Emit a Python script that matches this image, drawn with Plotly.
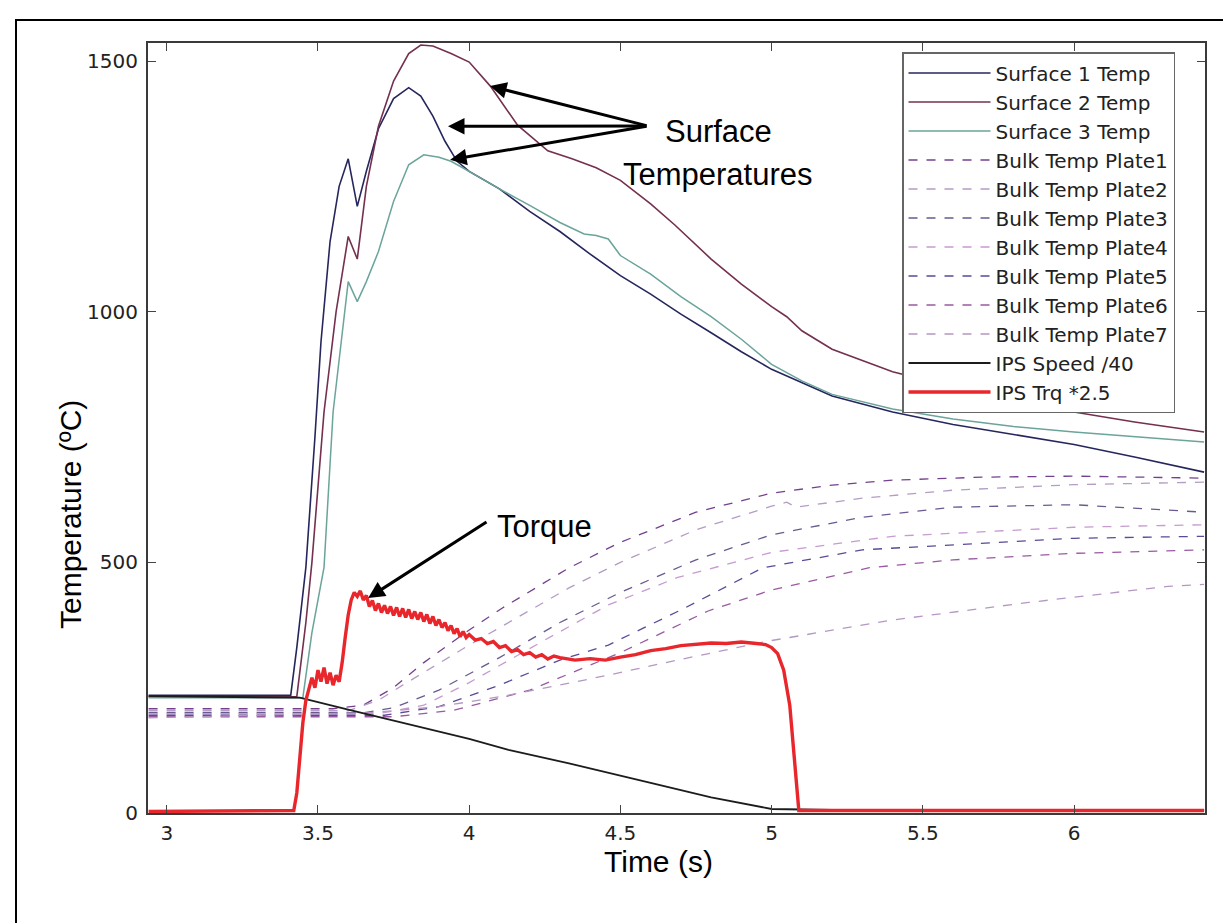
import plotly.graph_objects as go

# ---------------- data ----------------
t_s1 = [2.94, 3.41, 3.43, 3.46, 3.49, 3.51, 3.54, 3.57, 3.60, 3.63, 3.66, 3.70, 3.75, 3.80, 3.84, 3.88,
        3.92, 3.96, 4.0, 4.1, 4.2, 4.3, 4.4, 4.5, 4.6, 4.7, 4.8, 4.9, 5.0, 5.1, 5.2, 5.4, 5.6, 5.8, 6.0, 6.2, 6.43]
v_s1 = [235, 235, 330, 490, 750, 940, 1140, 1250, 1305, 1210, 1280, 1365, 1425, 1447, 1430, 1390,
        1340, 1300, 1280, 1245, 1200, 1160, 1115, 1072, 1035, 995, 958, 920, 885, 858, 832, 800, 775, 755, 735, 710, 680]

t_s2 = [2.94, 3.43, 3.46, 3.48, 3.52, 3.56, 3.60, 3.63, 3.66, 3.70, 3.75, 3.80, 3.84, 3.88, 3.94, 4.0,
        4.07, 4.16, 4.26, 4.34, 4.42, 4.5, 4.6, 4.68, 4.8, 4.9, 5.0, 5.05, 5.1, 5.2, 5.4, 5.6, 5.8, 6.0, 6.2, 6.43]
v_s2 = [232, 232, 380, 500, 800, 1000, 1150, 1105, 1250, 1370, 1460, 1515, 1532, 1530, 1515, 1498,
        1450, 1372, 1321, 1305, 1287, 1262, 1215, 1173, 1105, 1055, 1010, 990, 962, 925, 880, 850, 822, 800, 780, 760]

t_s3 = [2.94, 3.45, 3.48, 3.52, 3.55, 3.57, 3.60, 3.63, 3.66, 3.70, 3.75, 3.80, 3.85, 3.90, 3.94, 4.02,
        4.1, 4.2, 4.3, 4.38, 4.42, 4.46, 4.5, 4.6, 4.7, 4.8, 4.9, 5.0, 5.1, 5.2, 5.4, 5.6, 5.8, 6.0, 6.2, 6.43]
v_s3 = [230, 230, 360, 490, 800, 905, 1060, 1020, 1060, 1120, 1220, 1293, 1313, 1308, 1300, 1273,
        1245, 1212, 1178, 1155, 1152, 1145, 1112, 1075, 1030, 990, 945, 895, 862, 835, 806, 786, 771, 760, 750, 740]

t_b1 = [2.94, 3.55, 3.65, 3.75, 3.85, 4.0, 4.11, 4.33, 4.5, 4.75, 5.0, 5.2, 5.4, 5.7, 6.0, 6.2, 6.43]
v_b1 = [208, 208, 215, 250, 300, 365, 409, 489, 540, 600, 638, 654, 664, 670, 672, 670, 668]
t_b2 = [2.94, 3.6, 3.7, 3.78, 4.0, 4.1, 4.33, 4.5, 4.75, 5.0, 5.05, 5.08, 5.3, 5.6, 6.0, 6.43]
v_b2 = [204, 204, 225, 255, 335, 370, 449, 500, 565, 612, 620, 610, 628, 644, 655, 660]
t_b3 = [2.94, 3.65, 3.75, 3.9, 4.1, 4.3, 4.5, 4.75, 5.0, 5.3, 5.6, 6.0, 6.43]
v_b3 = [200, 200, 210, 245, 310, 380, 440, 505, 555, 590, 610, 615, 600]
t_b4 = [2.94, 3.7, 3.85, 4.0, 4.25, 4.46, 4.69, 5.0, 5.4, 6.0, 6.43]
v_b4 = [198, 198, 215, 260, 345, 415, 470, 520, 552, 570, 575]
t_b5 = [2.94, 3.72, 3.9, 4.1, 4.3, 4.46, 4.7, 4.97, 5.3, 6.0, 6.43]
v_b5 = [195, 195, 212, 255, 305, 335, 405, 489, 525, 548, 552]
t_b6 = [2.94, 3.75, 3.95, 4.2, 4.5, 4.79, 5.0, 5.32, 5.6, 6.0, 6.43]
v_b6 = [192, 192, 205, 245, 320, 403, 445, 489, 505, 518, 525]
t_b7 = [2.94, 3.67, 3.9, 4.13, 4.33, 4.46, 4.65, 4.98, 5.4, 5.85, 6.31, 6.43]
v_b7 = [190, 200, 212, 235, 259, 275, 300, 342, 385, 420, 452, 456]

t_speed = [2.94, 3.44, 3.6, 3.8, 4.0, 4.13, 4.33, 4.6, 4.8, 5.0, 5.2, 5.6, 6.0, 6.43]
v_speed = [233, 230, 206, 177, 148, 126, 99, 60, 31, 8, 6, 6, 6, 6]

t_trq = [2.94, 3.2, 3.42, 3.43, 3.44, 3.45, 3.46, 3.47, 3.48, 3.49, 3.50, 3.51, 3.52, 3.53, 3.54, 3.55,
         3.56, 3.57, 3.58, 3.59, 3.60, 3.61, 3.62, 3.63, 3.64, 3.65, 3.66, 3.67, 3.68, 3.69, 3.70, 3.71,
         3.72, 3.73, 3.74, 3.75, 3.76, 3.77, 3.78, 3.79, 3.80, 3.81, 3.82, 3.83, 3.84, 3.85, 3.86, 3.87,
         3.88, 3.89, 3.90, 3.91, 3.92, 3.93, 3.94, 3.95, 3.96, 3.97, 3.98, 3.99, 4.00, 4.02, 4.04, 4.06,
         4.08, 4.10, 4.12, 4.14, 4.16, 4.18, 4.20, 4.22, 4.24, 4.26, 4.28, 4.30, 4.35, 4.40, 4.45, 4.50,
         4.55, 4.60, 4.65, 4.70, 4.75, 4.80, 4.85, 4.90, 4.95, 4.98, 5.00, 5.02, 5.04, 5.06, 5.075, 5.085,
         5.09, 5.11, 5.3, 5.6, 6.0, 6.43]
v_trq = [3, 4, 5, 40, 110, 180, 225, 245, 270, 250, 285, 262, 290, 258, 280, 255,
         275, 262, 300, 350, 395, 425, 440, 432, 443, 425, 434, 412, 424, 404, 418, 400,
         414, 398, 412, 394, 410, 392, 408, 390, 406, 388, 402, 386, 400, 382, 396, 378,
         392, 374, 386, 370, 380, 364, 374, 358, 368, 352, 362, 350, 356, 345, 348, 338,
         342, 330, 334, 322, 326, 316, 320, 311, 316, 307, 313, 310, 305, 308, 305, 311,
         316, 324, 328, 334, 336, 339, 338, 341, 338, 336, 330, 318, 285, 215, 110, 30,
         5, 5, 5, 5, 5, 5]

names = ["Surface 1 Temp", "Surface 2 Temp", "Surface 3 Temp",
         "Bulk Temp Plate1", "Bulk Temp Plate2", "Bulk Temp Plate3", "Bulk Temp Plate4",
         "Bulk Temp Plate5", "Bulk Temp Plate6", "Bulk Temp Plate7",
         "IPS Speed /40", "IPS Trq *2.5"]
series_t = [t_s1, t_s2, t_s3, t_b1, t_b2, t_b3, t_b4, t_b5, t_b6, t_b7, t_speed, t_trq]
series_v = [v_s1, v_s2, v_s3, v_b1, v_b2, v_b3, v_b4, v_b5, v_b6, v_b7, v_speed, v_trq]

x_ticks = [3, 3.5, 4, 4.5, 5, 5.5, 6]
x_ticktext = ["3", "3.5", "4", "4.5", "5", "5.5", "6"]
y_ticks = [0, 500, 1000, 1500]
y_ticktext = ["0", "500", "1000", "1500"]

# ---------------- styles ----------------
colors = ["#26265e", "#74304e", "#6aa49a",
          "#74408e", "#b49cc4", "#6a5a90", "#c79ad0", "#5a4a98", "#9a5aa2", "#b498c2",
          "#1c1c1c", "#e8262b"]
widths = [1.6, 1.6, 1.5, 1.3, 1.3, 1.3, 1.3, 1.3, 1.3, 1.3, 1.8, 3.4]
dashes = ["solid", "solid", "solid", "dash", "dash", "dash", "dash", "dash", "dash", "dash", "solid", "solid"]

fig = go.Figure()
for n, tt, vv, c, w, d in zip(names, series_t, series_v, colors, widths, dashes):
    fig.add_trace(go.Scatter(x=tt, y=vv, mode="lines", name=n,
                             line=dict(color=c, width=w, dash=d)))

L, R, T, B = 140, 34, 35, 118
W, H = 1231, 923
pw, ph = W - L - R, H - T - B
X0, X1, Y0, Y1 = 2.938, 6.433, 0, 1536


def px(xp):
    return (xp - L) / pw


def py(yp):
    return (H - B - yp) / ph


def dx(xp):
    return X0 + (xp - L) / pw * (X1 - X0)


def dy(yp):
    return Y0 + (H - B - yp) / ph * (Y1 - Y0)


axis_common = dict(showgrid=False, zeroline=False, showline=True, mirror="ticks",
                   linecolor="#3a3a3a", linewidth=2, ticks="inside", ticklen=8,
                   tickcolor="#444", tickwidth=1,
                   tickfont=dict(family="DejaVu Sans", size=20, color="#222"))

fig.update_layout(
    width=W, height=H, autosize=False,
    margin=dict(l=L, r=R, t=T, b=B),
    paper_bgcolor="white", plot_bgcolor="white",
    xaxis=dict(range=[X0, X1], tickvals=x_ticks, ticktext=x_ticktext,
               ticklabelstandoff=1, **axis_common),
    yaxis=dict(range=[Y0, Y1], tickvals=y_ticks, ticktext=y_ticktext,
               ticklabelstandoff=4, **axis_common),
    legend=dict(x=px(894), y=py(44), xanchor="left", yanchor="top",
                bgcolor="white", bordercolor="#666", borderwidth=1.5,
                font=dict(family="DejaVu Sans", size=20, color="#222"),
                itemwidth=82, traceorder="normal"),
    showlegend=True,
)

# outer frame
fig.add_shape(type="rect", xref="paper", yref="paper",
              x0=px(8), x1=px(1228), y0=py(919), y1=py(12),
              line=dict(color="black", width=2), layer="below")

title_font = dict(family="Liberation Sans, Arial", size=30, color="black")
label_font = dict(family="Liberation Sans, Arial", size=31, color="black")

fig.add_annotation(xref="paper", yref="paper", x=px(650), y=py(872),
                   text="Time (s)", showarrow=False, font=title_font)
fig.add_annotation(xref="paper", yref="paper", x=px(44), y=py(623),
                   text="Temperature (ºC)", textangle=-90, showarrow=False, font=title_font)

fig.add_annotation(x=dx(710), y=dy(123), text="Surface", showarrow=False, font=label_font)
fig.add_annotation(x=dx(710), y=dy(166), text="Temperatures", showarrow=False, font=label_font)
for hx, hy in [(4.069, 1450), (3.93, 1370), (3.937, 1303)]:
    fig.add_annotation(x=hx, y=hy, ax=dx(640), ay=dy(118), axref="x", ayref="y", text="",
                       showarrow=True, arrowhead=2, arrowsize=1.1, arrowwidth=3,
                       arrowcolor="black", standoff=0)

fig.add_annotation(x=dx(536), y=dy(518), text="Torque", showarrow=False, font=label_font)
fig.add_annotation(x=3.666, y=429, ax=dx(480), ay=dy(513), axref="x", ayref="y", text="",
                   showarrow=True, arrowhead=2, arrowsize=1.1, arrowwidth=3,
                   arrowcolor="black", standoff=0)

fig.write_html("out.html")
